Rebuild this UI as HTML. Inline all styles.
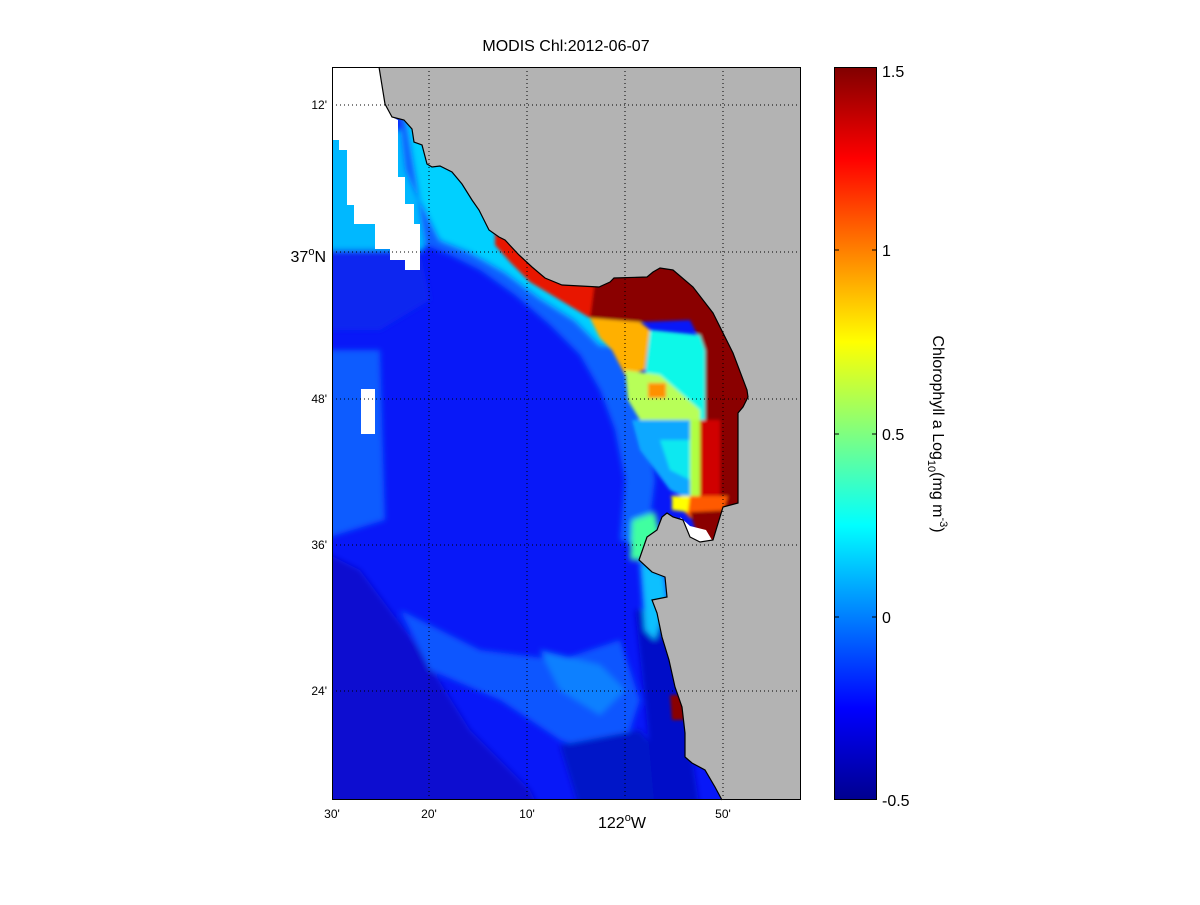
<!DOCTYPE html>
<html><head><meta charset="utf-8"><style>
body{margin:0;background:#fff;}
svg text{font-family:"Liberation Sans",sans-serif;fill:#000;}
</style></head><body>
<svg width="1200" height="900" viewBox="0 0 1200 900" xmlns="http://www.w3.org/2000/svg">
<defs>
<clipPath id="ocean"><path d="M332,67 L379,67 385,104 392,117 404,120 412,129 414,142 422,145 427,164 432,167 440,166 452,172 462,184 472,200 479,210 489,230 499,237 505,240 519,255 532,267 545,278 562,285 599,287 610,282 614,278 647,277 653,272 660,268 673,270 693,287 713,313 733,353 747,390 748,397 743,407 738,413 738,503 723,507 713,540 700,542 690,537 683,520 673,517 667,513 662,517 657,530 647,537 639,560 652,572 665,577 667,597 652,600 657,613 662,637 669,660 675,687 682,707 685,733 685,757 692,763 705,770 715,787 722,800 332,800 Z"/></clipPath>
<linearGradient id="jet" x1="0" y1="1" x2="0" y2="0">
<stop offset="0" stop-color="#00008f"/><stop offset="0.125" stop-color="#0000ff"/><stop offset="0.375" stop-color="#00ffff"/><stop offset="0.625" stop-color="#ffff00"/><stop offset="0.875" stop-color="#ff0000"/><stop offset="1" stop-color="#800000"/>
</linearGradient>
<filter id="bl"><feGaussianBlur stdDeviation="3"/></filter>
<filter id="bs"><feGaussianBlur stdDeviation="1.5"/></filter>
</defs>
<rect x="332" y="67" width="469" height="733" fill="#b3b3b3"/>
<g clip-path="url(#ocean)">
<rect x="332" y="67" width="469" height="733" fill="#0818f8"/>
<g filter="url(#bl)">
<polygon points="320,130 420,130 425,250 320,250" fill="#00b8ff"/>
<polygon points="320,350 380,350 385,520 320,540" fill="#0a5cff"/>
<polygon points="320,250 420,250 430,300 380,330 320,330" fill="#0a28f0"/>
<polygon points="320,550 360,570 420,650 470,730 530,790 540,810 320,810" fill="#0810d0"/>
<polygon points="400,610 480,650 560,660 620,640 640,700 620,760 560,740 500,700 430,670" fill="#0a56ff"/>
<polygon points="540,650 600,665 625,690 600,715 560,690" fill="#0a80ff"/>
<polygon points="560,745 640,730 700,810 580,810" fill="#0612c8"/>
<polygon points="635,610 670,610 700,810 655,810 645,700" fill="#0010c8"/>
<polygon points="398,110 412,120 430,150 462,176 485,205 505,232 530,258 560,280 590,300 610,330 625,370 640,400 650,440 655,480 650,520 635,545 620,540 625,480 615,430 600,390 580,355 550,325 515,295 480,270 450,255 425,245 418,200 405,170" fill="#0a60ff"/>
<polygon points="405,110 430,150 462,176 485,205 505,232 530,258 560,280 590,300 615,330 625,345 600,345 575,320 540,298 505,272 470,252 440,240 420,200" fill="#00d0ff"/>
<polygon points="632,520 655,512 660,535 645,560 630,560" fill="#40ffa0"/>
<polygon points="640,560 665,575 668,600 655,640 645,630" fill="#10c0ff"/>
</g>
<g filter="url(#bs)">
<polygon points="590,260 700,260 740,340 760,400 745,515 700,510 700,340 690,320 640,322 590,318" fill="#8a0000"/>
<polygon points="495,225 520,250 545,270 595,280 590,318 560,300 530,282 510,262 495,245" fill="#e81800"/>
<polygon points="590,318 640,322 650,330 645,370 625,375 612,350 600,338" fill="#ffb000"/>
<polygon points="650,330 700,335 705,350 705,420 690,430 660,410 645,375" fill="#10f8e8"/>
<polygon points="625,370 660,375 700,410 700,430 660,420 640,420 628,400" fill="#b8ff58"/>
<rect x="648" y="383" width="18" height="15" fill="#ff9000"/>
<polygon points="632,420 700,420 700,495 690,500 670,490 655,470 640,450" fill="#10a8ff"/>
<polygon points="660,440 690,440 690,480 670,470" fill="#10e8f0"/>
<polygon points="690,420 702,420 702,500 690,500" fill="#b0ff40"/>
<polygon points="700,420 720,420 720,500 700,500" fill="#d00000"/>
<polygon points="670,496 728,496 722,515 690,518" fill="#ff5a00"/>
<polygon points="672,496 690,496 688,512 672,510" fill="#ffff00"/>
<polygon points="690,512 730,510 715,545 700,545" fill="#8a0000"/>
<polygon points="670,695 684,695 686,720 672,720" fill="#8a0000"/>
</g>
<polygon points="332,67 379,67 385,104 392,117 398,120 398,177 405,177 405,204 414,204 414,224 420,224 420,270 405,270 405,260 390,260 390,249 375,249 375,224 354,224 354,205 347,205 347,150 339,150 339,140 332,140" fill="#fff"/>
<rect x="361" y="389" width="14" height="45" fill="#fff"/>
<polygon points="680,517 690,537 700,542 712,540 706,530 690,526" fill="#fff"/>
</g>
<path d="M379,67 L385,104 392,117 404,120 412,129 414,142 422,145 427,164 432,167 440,166 452,172 462,184 472,200 479,210 489,230 499,237 505,240 519,255 532,267 545,278 562,285 599,287 610,282 614,278 647,277 653,272 660,268 673,270 693,287 713,313 733,353 747,390 748,397 743,407 738,413 738,503 723,507 713,540 700,542 690,537 683,520 673,517 667,513 662,517 657,530 647,537 639,560 652,572 665,577 667,597 652,600 657,613 662,637 669,660 675,687 682,707 685,733 685,757 692,763 705,770 715,787 722,800" fill="none" stroke="#000" stroke-width="1.2"/>
<g stroke="#000" stroke-width="1" stroke-dasharray="1,3">
<line x1="429" y1="67" x2="429" y2="800"/><line x1="527" y1="67" x2="527" y2="800"/><line x1="625" y1="67" x2="625" y2="800"/><line x1="723" y1="67" x2="723" y2="800"/>
<line x1="332" y1="105" x2="801" y2="105"/><line x1="332" y1="252" x2="801" y2="252"/><line x1="332" y1="399" x2="801" y2="399"/><line x1="332" y1="545" x2="801" y2="545"/><line x1="332" y1="691" x2="801" y2="691"/>
</g>
<rect x="332.5" y="67.5" width="468" height="732" fill="none" stroke="#000"/>
<text x="566" y="51" font-size="16" text-anchor="middle">MODIS Chl:2012-06-07</text>
<g font-size="12" text-anchor="end">
<text x="327" y="109">12'</text><text x="327" y="403">48'</text><text x="327" y="549">36'</text><text x="327" y="695">24'</text>
</g>
<text x="326" y="262" font-size="16" text-anchor="end">37<tspan dy="-7" font-size="11">o</tspan><tspan dy="7">N</tspan></text>
<g font-size="12" text-anchor="middle">
<text x="332" y="818">30'</text><text x="429" y="818">20'</text><text x="527" y="818">10'</text><text x="723" y="818">50'</text>
</g>
<text x="598" y="828" font-size="16">122<tspan dy="-7" font-size="11">o</tspan><tspan dy="7">W</tspan></text>
<rect x="834" y="67" width="43" height="733" fill="url(#jet)"/>
<rect x="834.5" y="67.5" width="42" height="732" fill="none" stroke="#000"/>
<g stroke="#000"><line x1="834" y1="250" x2="839" y2="250"/><line x1="872" y1="250" x2="877" y2="250"/><line x1="834" y1="434" x2="839" y2="434"/><line x1="872" y1="434" x2="877" y2="434"/><line x1="834" y1="617" x2="839" y2="617"/><line x1="872" y1="617" x2="877" y2="617"/></g>
<g font-size="16">
<text x="882" y="77">1.5</text><text x="882" y="256">1</text><text x="882" y="440">0.5</text><text x="882" y="623">0</text><text x="882" y="806">-0.5</text>
</g>
<text transform="translate(933,434) rotate(90)" font-size="16" text-anchor="middle">Chlorophyll a Log<tspan dy="5" font-size="11">10</tspan><tspan dy="-5">(mg m</tspan><tspan dy="-7" font-size="11">-3</tspan><tspan dy="7">)</tspan></text>
</svg>
</body></html>
